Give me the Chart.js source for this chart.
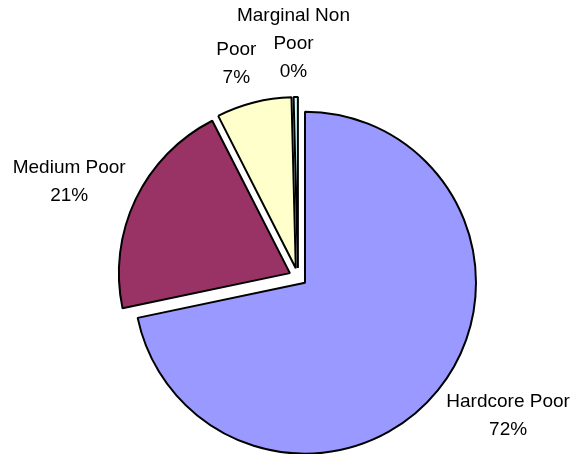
<!DOCTYPE html>
<html>
<head>
<meta charset="utf-8">
<script src="https://cdn.jsdelivr.net/npm/chart.js@4/dist/chart.umd.min.js"></script>
<style>
  html, body { margin: 0; padding: 0; background: #fff; }
  #wrap { width: 578px; height: 454px; }
</style>
</head>
<body>
<div id="wrap"><canvas id="povertyPie" width="578" height="454"></canvas></div>
<script>
// Poverty category shares
const categories = ['Hardcore Poor', 'Medium Poor', 'Poor', 'Marginal Non Poor'];
const shares = [71.7, 20.8, 7.1, 0.4];
// How each category name wraps in the label
const labelLines = [['Hardcore Poor'], ['Medium Poor'], ['Poor'], ['Marginal Non', 'Poor']];
const sliceColors = ['#9999ff', '#993366', '#ffffcc', '#ccffff'];

const labelFont = '19px "Liberation Sans", Arial, sans-serif';
const lineHeight = 28;
const labelGap = 11;
const explode = 9; // px each slice is pulled out, without growing it

function clamp(v) {
    return Math.max(-1, Math.min(1, v));
}

// chart.js offset also grows the slice, so shift each arc ourselves
const explodeSlices = {
    id: 'explodeSlices',
    beforeDatasetsDraw(chart) {
        chart.getDatasetMeta(0).data.forEach(arc => {
            if (arc._exploded) return;
            const baseDraw = arc.draw;
            arc.draw = function (ctx) {
                const mid = (this.startAngle + this.endAngle) / 2;
                ctx.save();
                ctx.translate(Math.cos(mid) * explode, Math.sin(mid) * explode);
                baseDraw.call(this, ctx);
                ctx.restore();
            };
            arc._exploded = true;
        });
    }
};

// Draw "name / pct" labels outside each slice, Excel style
const outsideLabels = {
    id: 'outsideLabels',
    afterDatasetsDraw(chart) {
        const ctx = chart.ctx;
        const meta = chart.getDatasetMeta(0);
        const ds = chart.data.datasets[0];
        const total = ds.data.reduce((a, b) => a + b, 0);
        ctx.save();
        ctx.font = labelFont;
        ctx.fillStyle = '#000';
        ctx.textAlign = 'center';
        ctx.textBaseline = 'middle';
        meta.data.forEach((arc, i) => {
            const p = arc.getProps(['x', 'y', 'startAngle', 'endAngle', 'outerRadius']);
            const mid = (p.startAngle + p.endAngle) / 2;
            const dx = Math.cos(mid);
            const dy = Math.sin(mid);
            const r = p.outerRadius + explode + labelGap;
            const px = p.x + dx * r;
            const py = p.y + dy * r;
            const lines = labelLines[i].concat([Math.round(ds.data[i] / total * 100) + '%']);
            const w = Math.max(...lines.map(t => ctx.measureText(t).width));
            const h = lines.length * lineHeight;
            const left = px - w * (1 - clamp(dx * 3)) / 2;
            const top = py - h * (1 - clamp(dy * 1.04)) / 2;
            lines.forEach((t, j) => {
                ctx.fillText(t, left + w / 2, top + lineHeight / 2 + j * lineHeight);
            });
        });
        ctx.restore();
    }
};

const ctx = document.getElementById('povertyPie').getContext('2d');
const povertyPie = new Chart(ctx, {
    type: 'pie',
    data: {
        labels: categories,
        datasets: [{
            data: shares,
            backgroundColor: sliceColors,
            borderColor: '#000',
            borderWidth: 2
        }]
    },
    options: {
        responsive: false,
        animation: false,
        radius: 171,
        layout: {
            padding: { top: 100, left: 18, right: 0, bottom: 0 }
        },
        plugins: {
            legend: { display: false },
            tooltip: { enabled: false }
        }
    },
    plugins: [explodeSlices, outsideLabels]
});
</script>
</body>
</html>
